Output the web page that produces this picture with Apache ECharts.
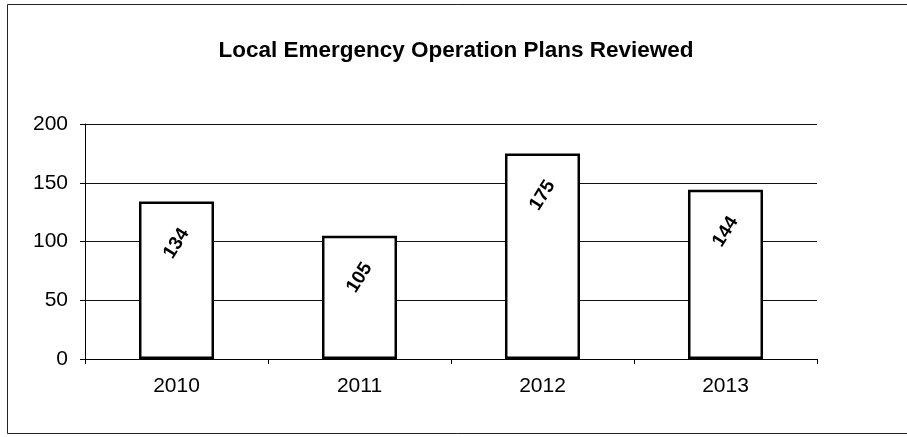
<!DOCTYPE html>
<html>
<head>
<meta charset="utf-8">
<script src="https://cdn.jsdelivr.net/npm/echarts@6/dist/echarts.min.js"></script>
<style>
html,body{margin:0;padding:0;background:#fff;}
#chart{width:907px;height:437px;}
</style>
</head>
<body>
<div id="chart"></div>
<script>
const title = 'Local Emergency Operation Plans Reviewed';
const categories = ['2010', '2011', '2012', '2013'];
const values = [134, 105, 175, 144];
const yTicks = [0, 50, 100, 150, 200];

const chart = echarts.init(document.getElementById('chart'), null, {renderer: 'canvas'});
const font = '"Liberation Sans", Arial, sans-serif';
chart.setOption({
  animation: false,
  backgroundColor: '#fff',
  title: {
    text: title,
    left: 451,
    top: 34,
    textAlign: 'center',
    textStyle: {fontFamily: font, fontWeight: 'bold', fontSize: 22.5, color: '#000'}
  },
  graphic: [{
    type: 'rect',
    shape: {x: 7.5, y: 4.5, width: 920, height: 429},
    style: {fill: 'none', stroke: '#222', lineWidth: 1},
    silent: true
  }],
  grid: {left: 85, right: 90, top: 124, bottom: 78, containLabel: false},
  xAxis: {
    type: 'category',
    data: categories,
    boundaryGap: true,
    axisLine: {show: true, lineStyle: {color: '#000', width: 1}},
    axisTick: {show: true, alignWithLabel: false, length: 5, inside: false, lineStyle: {color: '#000'}},
    axisLabel: {fontFamily: font, fontSize: 21, color: '#000', margin: 17},
    splitLine: {show: false}
  },
  yAxis: {
    type: 'value',
    min: yTicks[0],
    max: yTicks[yTicks.length - 1],
    interval: yTicks[1] - yTicks[0],
    axisLine: {show: true, lineStyle: {color: '#000', width: 1}},
    axisTick: {show: true, length: 5, lineStyle: {color: '#000'}},
    axisLabel: {fontFamily: font, fontSize: 21, color: '#000', margin: 17},
    splitLine: {show: true, lineStyle: {color: '#111', width: 1}}
  },
  series: [{
    type: 'bar',
    data: values,
    barWidth: '41%',
    itemStyle: {color: '#fff', borderColor: '#000', borderWidth: 2.5},
    label: {
      show: true,
      position: ['50%', 42],
      align: 'center',
      verticalAlign: 'middle',
      rotate: 58,
      fontFamily: font,
      fontWeight: 'bold',
      fontSize: 19,
      color: '#000'
    }
  }]
});
</script>
</body>
</html>
